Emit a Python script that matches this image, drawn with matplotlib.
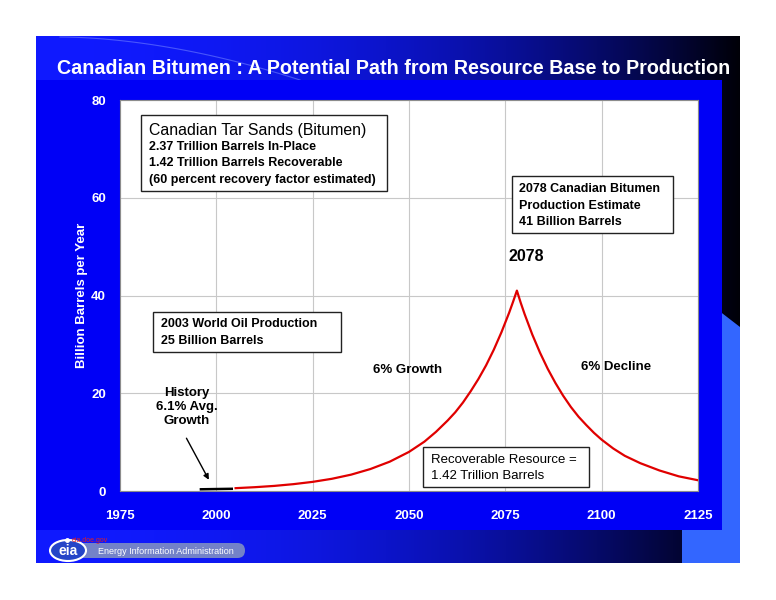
import numpy as np
import matplotlib.pyplot as plt
from matplotlib.patches import Rectangle, Polygon, FancyBboxPatch, Ellipse

plt.rcParams['font.family'] = ['Liberation Sans', 'DejaVu Sans']

# history (black) and projection (red), billion barrels per year
hist_years = [1996, 2000, 2004]
hist_values = [0.35, 0.4, 0.45]

proj_years = [2005, 2010, 2015, 2020, 2025, 2030, 2035, 2040, 2045, 2050,
              2054, 2057, 2060, 2062, 2064, 2066, 2068, 2070, 2072, 2074, 2076, 2077, 2078,
              2079, 2080, 2082, 2084, 2086, 2088, 2090, 2092, 2094, 2096, 2098, 2100,
              2103, 2106, 2110, 2115, 2120, 2125]
proj_values = [0.58, 0.78, 1.04, 1.4, 1.87, 2.5, 3.35, 4.5, 6.0, 8.0,
               10.1, 12.1, 14.4, 16.1, 18.1, 20.4, 22.9, 25.7, 28.9, 32.5, 36.5, 38.7, 41.0,
               38.5, 36.2, 32.0, 28.3, 25.0, 22.1, 19.5, 17.2, 15.2, 13.5, 11.9, 10.5,
               8.7, 7.2, 5.7, 4.2, 3.0, 2.2]

x_ticks = [1975, 2000, 2025, 2050, 2075, 2100, 2125]
y_ticks = [0, 20, 40, 60, 80]

title = 'Canadian Bitumen : A Potential Path from Resource Base to Production'

W, H = 776, 600
fig = plt.figure(figsize=(7.76, 6), dpi=100)
fig.patch.set_facecolor('white')

# slide background, in pixel coords
bg = fig.add_axes([0, 0, 1, 1])
bg.set_xlim(0, W)
bg.set_ylim(H, 0)
bg.axis('off')

t = np.linspace(0, 1, 400)
shade = 1 - t ** 2.2
grad = np.zeros((2, 400, 3))
grad[..., 0] = 0.06 * shade
grad[..., 1] = 0.10 * shade
grad[..., 2] = 0.97 * shade + 0.03
bg.imshow(grad, extent=[36, 740, 563, 36], aspect='auto', zorder=0)

# faint swoosh at top
sx = np.linspace(60, 300, 50)
sy = 37 + 43 * ((sx - 60) / 240) ** 1.8
bg.plot(sx, sy, color='#6f7fff', lw=0.8, alpha=0.6, zorder=1)

# light blue corner
bg.add_patch(Polygon([(682, 563), (682, 300), (705, 300), (740, 327), (740, 563)],
                     closed=True, facecolor='#3366ff', edgecolor='none', zorder=1))
# blue panel
bg.add_patch(Rectangle((36, 80), 686, 450, facecolor='#0000f6', edgecolor='none', zorder=2))

bg.text(394, 69, title, color='white', fontsize=14.2, fontweight='bold',
        ha='center', va='center', zorder=3)
bg.text(82, 295, 'Billion Barrels per Year', color='white', fontsize=9.5,
        fontweight='bold', rotation=90, ha='center', va='center', zorder=3)

# eia logo
bg.add_patch(FancyBboxPatch((62, 543), 183, 15, boxstyle='round,pad=0,rounding_size=7.5',
                            facecolor='#7382c8', edgecolor='none', zorder=3))
bg.add_patch(Ellipse((68, 550.5), 36, 21, facecolor='#2545c8', edgecolor='white', lw=1.5, zorder=4))
bg.text(68, 551, 'eia', color='white', fontsize=10, fontweight='bold',
        ha='center', va='center', zorder=5)
bg.text(98, 551, 'Energy Information Administration', color='white', fontsize=6.5,
        ha='left', va='center', zorder=5)
bg.plot([67], [540], 'o', color='white', ms=2.5, zorder=5)
bg.text(72, 540, 'eia.doe.gov', color='#e02020', fontsize=5, ha='left', va='center', zorder=5)

# main chart
ax = fig.add_axes([120 / W, 1 - 491 / H, 578 / W, 391 / H])
ax.set_facecolor('white')
ax.plot(proj_years, proj_values, color='#e00000', lw=1.6, zorder=4)
ax.plot(hist_years, hist_values, color='black', lw=1.8, zorder=4)

ax.set_xlim(1975, 2125)
ax.set_ylim(0, 80)
ax.set_xticks(x_ticks)
ax.set_yticks(y_ticks)
ax.grid(True, color='#c8c8c8', lw=0.8)
ax.set_axisbelow(True)
ax.tick_params(length=0, labelcolor='white', labelsize=9.5)
ax.tick_params(axis='x', pad=14)
ax.tick_params(axis='y', pad=10)
for lab in ax.get_xticklabels() + ax.get_yticklabels():
    lab.set_fontweight('bold')
for s in ax.spines.values():
    s.set_color('#8c8c8c')
    s.set_linewidth(0.8)


def box(x0, x1, y0, y1):
    ax.add_patch(Rectangle((x0, y0), x1 - x0, y1 - y0, facecolor='white',
                           edgecolor='#222222', lw=1, zorder=5))


box(1980.4, 2044.3, 61.4, 76.9)
ax.text(1982.5, 73.7, 'Canadian Tar Sands (Bitumen)', fontsize=11.4, va='center', zorder=6)
ax.text(1982.5, 70.4, '2.37 Trillion Barrels In-Place', fontsize=9, fontweight='bold', va='center', zorder=6)
ax.text(1982.5, 67.1, '1.42 Trillion Barrels Recoverable', fontsize=9, fontweight='bold', va='center', zorder=6)
ax.text(1982.5, 63.6, '(60 percent recovery factor estimated)', fontsize=9, fontweight='bold', va='center', zorder=6)

box(2076.7, 2118.5, 52.8, 64.5)
ax.text(2078.5, 61.8, '2078 Canadian Bitumen', fontsize=9, fontweight='bold', va='center', zorder=6)
ax.text(2078.5, 58.3, 'Production Estimate', fontsize=9, fontweight='bold', va='center', zorder=6)
ax.text(2078.5, 55.0, '41 Billion Barrels', fontsize=9, fontweight='bold', va='center', zorder=6)

ax.text(2075.7, 47.9, '2078', fontsize=11.5, fontweight='bold', va='center', zorder=6)

box(1983.6, 2032.4, 28.4, 36.6)
ax.text(1985.6, 34.2, '2003 World Oil Production', fontsize=9, fontweight='bold', va='center', zorder=6)
ax.text(1985.6, 30.7, '25 Billion Barrels', fontsize=9, fontweight='bold', va='center', zorder=6)

ax.text(2049.7, 24.8, '6% Growth', fontsize=9.5, fontweight='bold', ha='center', va='center', zorder=6)
ax.text(2103.7, 25.4, '6% Decline', fontsize=9.5, fontweight='bold', ha='center', va='center', zorder=6)

ax.text(1992.4, 17.2, 'History\n6.1% Avg.\nGrowth', fontsize=9.5, fontweight='bold',
        ha='center', va='center', linespacing=1.25, zorder=6)
ax.annotate('', xy=(1998.4, 1.8), xytext=(1991.9, 11.3),
            arrowprops=dict(arrowstyle='-|>', color='black', lw=1, mutation_scale=8), zorder=6)

box(2053.6, 2096.7, 0.8, 9.0)
ax.text(2055.7, 6.3, 'Recoverable Resource =', fontsize=9.5, va='center', zorder=6)
ax.text(2055.7, 3.1, '1.42 Trillion Barrels', fontsize=9.5, va='center', zorder=6)

fig.savefig('out.png', dpi=100, facecolor='white')
